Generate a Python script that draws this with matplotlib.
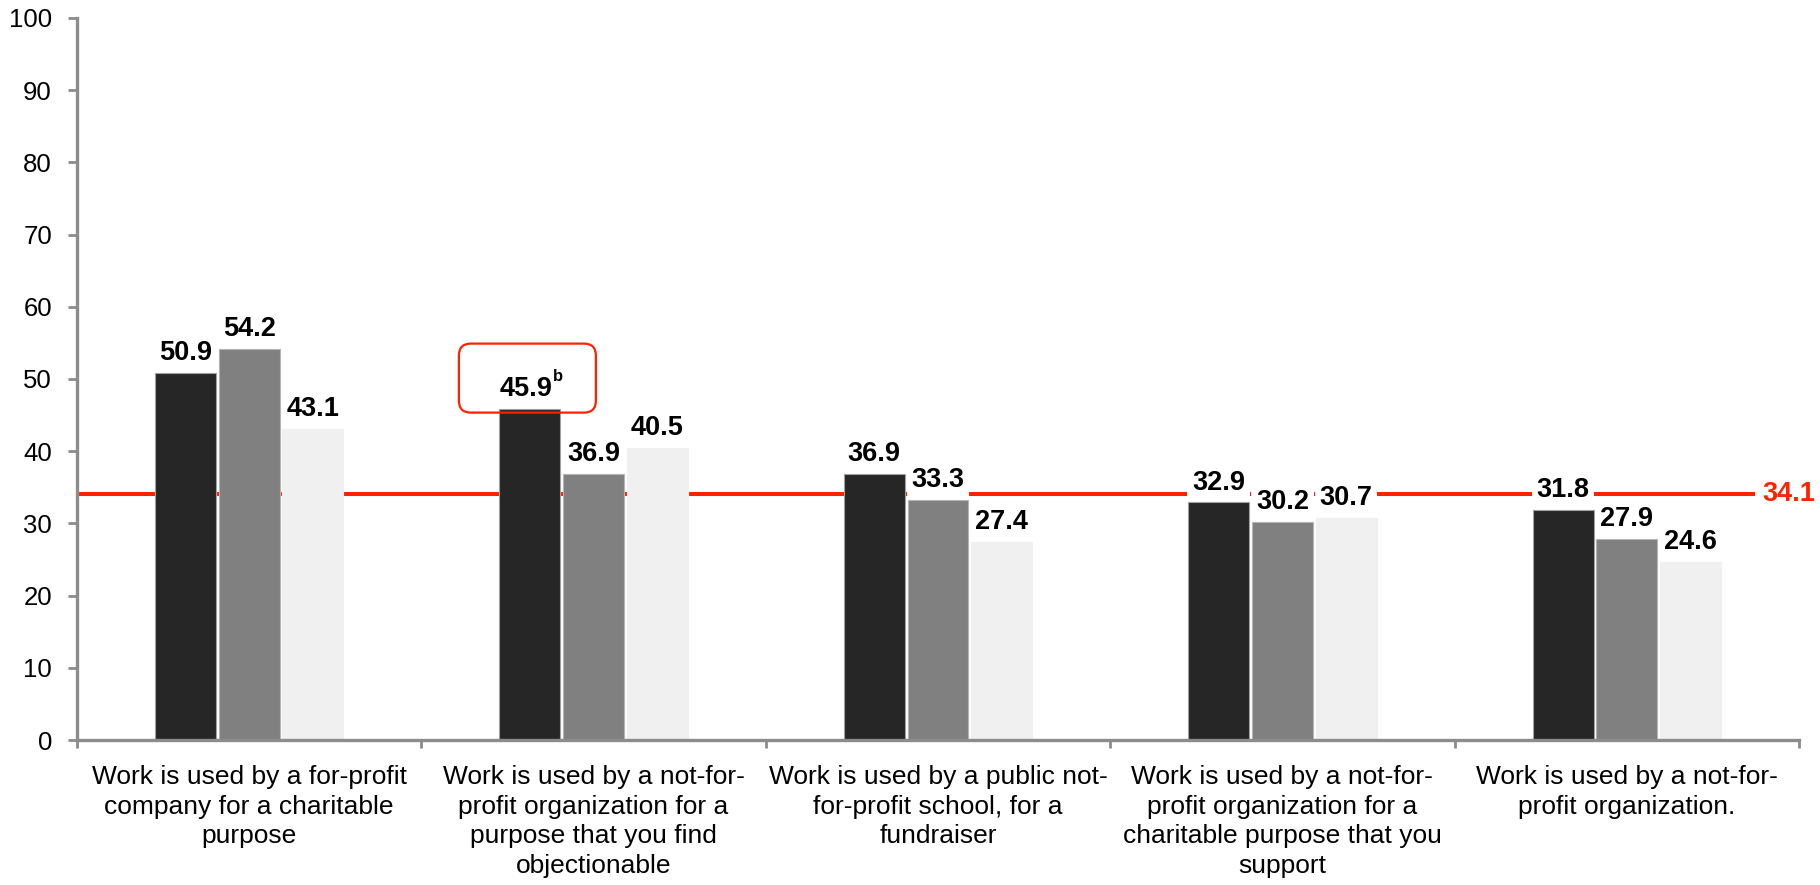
import matplotlib
matplotlib.use("Agg")
import matplotlib.pyplot as plt
from matplotlib import font_manager
from matplotlib.patches import FancyBboxPatch
import numpy as np

categories = [
    "Work is used by a for-profit\ncompany for a charitable\npurpose",
    "Work is used by a not-for-\nprofit organization for a\npurpose that you find\nobjectionable",
    "Work is used by a public not-\nfor-profit school, for a\nfundraiser",
    "Work is used by a not-for-\nprofit organization for a\ncharitable purpose that you\nsupport",
    "Work is used by a not-for-\nprofit organization.",
]
series_a = [50.9, 45.9, 36.9, 32.9, 31.8]
series_b = [54.2, 36.9, 33.3, 30.2, 27.9]
series_c = [43.1, 40.5, 27.4, 30.7, 24.6]
value_labels_a = ["50.9", "45.9", "36.9", "32.9", "31.8"]
value_labels_b = ["54.2", "36.9", "33.3", "30.2", "27.9"]
value_labels_c = ["43.1", "40.5", "27.4", "30.7", "24.6"]
reference_value = 34.1
reference_label = "34.1"
highlight_index = 1
highlight_sup = "b"
yticks = [0, 10, 20, 30, 40, 50, 60, 70, 80, 90, 100]

names = {f.name for f in font_manager.fontManager.ttflist}
narrow = "Liberation Sans Narrow" if "Liberation Sans Narrow" in names else "Liberation Sans"
regular = "Liberation Sans"

W, H = 1820, 885
fig = plt.figure(figsize=(W / 100, H / 100), dpi=100)
ax = fig.add_axes([77 / W, 1 - 740 / H, (1799 - 77) / W, (740 - 18) / H])
ax.set_xlim(-0.5, len(categories) - 0.5)
ax.set_ylim(0, 100)

x = np.arange(len(categories))
bw = 0.177
offs = [-0.185, 0.0, 0.185]
colors = ["#262626", "#808080", "#F0F0F0"]
edges = ["#a0a0a0", "#b4b4b4", "#F0F0F0"]
red = "#FF2200"
lab_fs = 19.5

ax.axhline(reference_value, xmin=0, xmax=(1753 - 77) / (1799 - 77), color=red, lw=2.9, zorder=1)
ax.text((1762 - 77) / (1799 - 77), reference_value, reference_label, transform=ax.get_yaxis_transform(),
        color=red, fontsize=lab_fs, fontweight="bold", family=narrow, va="center", ha="left", clip_on=False)

for s, (vals, labs) in enumerate(zip([series_a, series_b, series_c],
                                     [value_labels_a, value_labels_b, value_labels_c])):
    ax.bar(x + offs[s], vals, width=bw, color=colors[s], edgecolor=edges[s], linewidth=0.8, zorder=2)
    for i, (v, lab) in enumerate(zip(vals, labs)):
        if s == 0 and i == highlight_index:
            t = ax.annotate(lab, (x[i] + offs[s], v), xytext=(-3, 5), textcoords="offset points",
                            ha="center", va="bottom", fontsize=lab_fs, fontweight="bold", family=narrow, zorder=4)
            ax.annotate(highlight_sup, xy=(1, 1), xycoords=t, xytext=(0.5, 5), textcoords="offset points",
                        ha="left", va="top", fontsize=12, fontweight="bold", family=narrow, zorder=4)
            continue
        ax.annotate(lab, (x[i] + offs[s], v), xytext=(0, 5), textcoords="offset points",
                    ha="center", va="bottom", fontsize=lab_fs, fontweight="bold", family=narrow, zorder=4,
                    bbox=dict(boxstyle="square,pad=0.18", fc="white", ec="none"))

# rounded highlight box around the flagged label
fig.canvas.draw()
px_x = (ax.get_xlim()[1] - ax.get_xlim()[0]) / ax.bbox.width
px_y = (ax.get_ylim()[1] - ax.get_ylim()[0]) / ax.bbox.height
cx = x[highlight_index] + offs[0]
v = series_a[highlight_index]
bx0 = cx - 71 * px_x
bwid = 137 * px_x
by0 = v - 4 * px_y
bhei = 69 * px_y
box = FancyBboxPatch((bx0, by0), bwid, bhei, boxstyle=f"round,pad=0,rounding_size={12 * px_x}",
                     mutation_aspect=px_y / px_x, fc="none", ec=red, lw=1.6, zorder=5, clip_on=False)
ax.add_patch(box)

ax.set_yticks(yticks)
ax.set_yticklabels([str(t) for t in yticks], fontsize=18.5, family=regular)
ax.set_xticks(x)
ax.set_xticklabels(categories, fontsize=19, family=regular, linespacing=1.3)
ax.tick_params(axis="x", length=0, pad=18)
ax.set_xticks(np.arange(-0.5, len(categories)), minor=True)
ax.tick_params(axis="x", which="minor", length=6, width=2, color="#8c8c8c", direction="out")
ax.tick_params(axis="y", length=6.5, width=2, color="#8c8c8c", pad=11.5)
for side in ["top", "right"]:
    ax.spines[side].set_visible(False)
for side in ["left", "bottom"]:
    ax.spines[side].set_color("#8c8c8c")
    ax.spines[side].set_linewidth(2.4)

fig.savefig("out.png", dpi=100)
